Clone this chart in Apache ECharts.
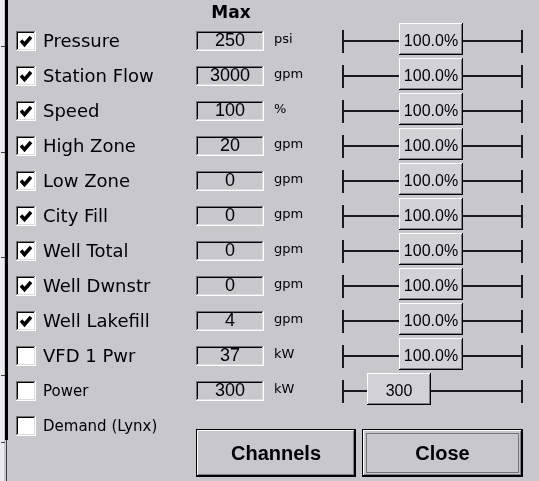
<!DOCTYPE html>
<html>
<head>
<meta charset="utf-8">
<script src="https://cdn.jsdelivr.net/npm/echarts@6/dist/echarts.min.js"></script>
<style>html,body{margin:0;padding:0;background:#c8c8cc;}#chart{width:539px;height:481px;}</style>
</head>
<body>
<div id="chart"></div>
<script>
// ---- data ----
const channelNames = ['Pressure','Station Flow','Speed','High Zone','Low Zone','City Fill','Well Total','Well Dwnstr','Well Lakefill','VFD 1 Pwr','Power','Demand (Lynx)'];
const checkedFlags = [1,1,1,1,1,1,1,1,1,0,0,0];
const maxValues = [250,3000,100,20,0,0,0,0,4,37,300,null];
const unitLabels = ['psi','gpm','%','gpm','gpm','gpm','gpm','gpm','gpm','kW','kW',''];
const sliderLabels = ['100.0%','100.0%','100.0%','100.0%','100.0%','100.0%','100.0%','100.0%','100.0%','100.0%','300',null];
const sliderValues = [100,100,100,100,100,100,100,100,100,100,45,null];
const headerText = 'Max';
const buttonLabels = ['Channels','Close'];

// ---- drawing helpers ----
const BG = '#c8c8cc';
function ln(x1,y1,x2,y2,c,w){return {type:'line',shape:{x1,y1,x2,y2},style:{stroke:c,lineWidth:w||1}};}
function sunken(x,y,w,h,fill){
  return [
    {type:'rect',shape:{x,y,width:w,height:h},style:{fill}},
    ln(x,y+0.5,x+w,y+0.5,'#707070'),
    ln(x+0.5,y,x+0.5,y+h,'#707070'),
    ln(x+1,y+1.5,x+w-1,y+1.5,'#000'),
    ln(x+1.5,y+1,x+1.5,y+h-1,'#000'),
    ln(x,y+h-0.5,x+w,y+h-0.5,'#fff'),
    ln(x+w-0.5,y,x+w-0.5,y+h,'#fff'),
    ln(x+1,y+h-1.5,x+w-1,y+h-1.5,'#dcdcdc'),
    ln(x+w-1.5,y+1,x+w-1.5,y+h-1,'#dcdcdc')
  ];
}
function raised(x,y,w,h,fill){
  return [
    {type:'rect',shape:{x,y,width:w,height:h},style:{fill}},
    ln(x,y+0.5,x+w,y+0.5,'#fff'),
    ln(x+0.5,y,x+0.5,y+h,'#fff'),
    ln(x,y+h-0.5,x+w,y+h-0.5,'#000'),
    ln(x+w-0.5,y,x+w-0.5,y+h,'#000'),
    ln(x+1,y+h-1.5,x+w-1,y+h-1.5,'#808080'),
    ln(x+w-1.5,y+1,x+w-1.5,y+h-1,'#808080')
  ];
}
function txt(x,y,s,font,align){return {type:'text',x,y,style:{text:s,font,fill:'#000',align:align||'left',verticalAlign:'middle'}};}

function rowRender(params, api){
  const i = api.value(1);
  const cy = Math.round(api.coord([0,i])[1]);
  const ch = [];
  // checkbox
  const bx = 16, by = cy-10, bs = 20;
  ch.push(...sunken(bx,by,bs,bs,'#fff'));
  if (checkedFlags[i]) {
    ch.push({type:'polyline',shape:{points:[[bx+5,by+9.5],[bx+8.5,by+13.5],[bx+15,by+6]]},style:{stroke:'#000',lineWidth:3.5,fill:null}});
  }
  const small = i >= 10;
  ch.push(txt(43, cy+1, channelNames[i], (small?'15px':'18px')+' "DejaVu Sans"'));
  if (maxValues[i] != null) {
    ch.push(...sunken(196, cy-10, 68, 20, BG));
    ch.push(txt(230, cy+0.5, String(maxValues[i]), '18px "Liberation Sans"', 'center'));
    ch.push(txt(274, cy-1, unitLabels[i], '13px "DejaVu Sans"'));
    // track
    ch.push(ln(343, cy, 522, cy, '#1a1a1a', 2));
    ch.push(ln(343, cy-11, 343, cy+12, '#1a1a1a', 2));
    ch.push(ln(522, cy-11, 522, cy+12, '#1a1a1a', 2));
  }
  return {type:'group', children: ch};
}

function thumbRender(params, api){
  const i = api.value(1);
  const p = api.coord([api.value(0), i]);
  const cx = Math.round(p[0]), cy = Math.round(p[1]);
  const w = 64, h = 32;
  const ch = raised(cx-w/2, cy-18, w, h, '#d2d2d6');
  ch.push(txt(cx, cy+1, sliderLabels[i], '16px "Liberation Sans"', 'center'));
  return {type:'group', children: ch};
}

function button(x,y,w,h,label,isDefault){
  const ch = [];
  ch.push({type:'rect',shape:{x,y,width:w,height:h},style:{fill:'#000'}});
  ch.push(...raised(x+1,y+1,w-2,h-2,BG));
  if (isDefault) {
    ch.push({type:'rect',shape:{x:x+4.5,y:y+4.5,width:w-9,height:h-9},style:{fill:null,stroke:'#202020',lineWidth:1,lineDash:[1,1]}});
  }
  ch.push(txt(x+w/2, y+h/2+1, label, 'bold 20px "Liberation Sans"', 'center'));
  return {type:'group', children: ch};
}

const chart = echarts.init(document.getElementById('chart'), null, {renderer:'canvas'});
const option = {
  animation: false,
  backgroundColor: BG,
  grid: [
    {left:0, width:539, top:23.5, height:420},
    {left:373, width:115, top:23.5, height:420}
  ],
  xAxis: [
    {gridIndex:0, type:'value', min:0, max:539, show:false},
    {gridIndex:1, type:'value', min:0, max:200, show:false}
  ],
  yAxis: [
    {gridIndex:0, type:'category', data:channelNames, inverse:true, show:false},
    {gridIndex:1, type:'category', data:channelNames, inverse:true, show:false}
  ],
  graphic: [
    {type:'rect', shape:{x:0,y:0,width:4,height:481}, style:{fill:'#ececec'}, z:1},
    {type:'rect', shape:{x:5,y:0,width:3,height:440}, style:{fill:'#000'}, z:1},
    {type:'rect', shape:{x:6,y:440,width:1,height:41}, style:{fill:'#404040'}, z:1},
    {type:'rect', shape:{x:1,y:46,width:4,height:1}, style:{fill:'#404040'}, z:1},
    {type:'rect', shape:{x:1,y:152,width:4,height:1}, style:{fill:'#404040'}, z:1},
    {type:'rect', shape:{x:1,y:257,width:4,height:1}, style:{fill:'#404040'}, z:1},
    {type:'rect', shape:{x:1,y:375,width:4,height:1}, style:{fill:'#404040'}, z:1},
    {type:'rect', shape:{x:1,y:442,width:4,height:1}, style:{fill:'#404040'}, z:1},
    {type:'text', x:231, y:14, style:{text:headerText, font:'bold 17px "DejaVu Sans"', fill:'#000', align:'center', verticalAlign:'middle'}, z:1},
    Object.assign(button(196,429,160,48,buttonLabels[0],false),{z:1}),
    Object.assign(button(362,429,161,48,buttonLabels[1],true),{z:1})
  ],
  series: [
    {type:'custom', xAxisIndex:0, yAxisIndex:0, renderItem: rowRender,
     data: channelNames.map((n,i)=>[0,i]), encode:{x:0,y:1}, silent:true},
    {type:'custom', xAxisIndex:1, yAxisIndex:1, renderItem: thumbRender, z:3,
     data: sliderValues.map((v,i)=>[v,i]).filter(d=>d[0]!=null), encode:{x:0,y:1}, silent:true}
  ]
};
chart.setOption(option);
</script>
</body>
</html>
